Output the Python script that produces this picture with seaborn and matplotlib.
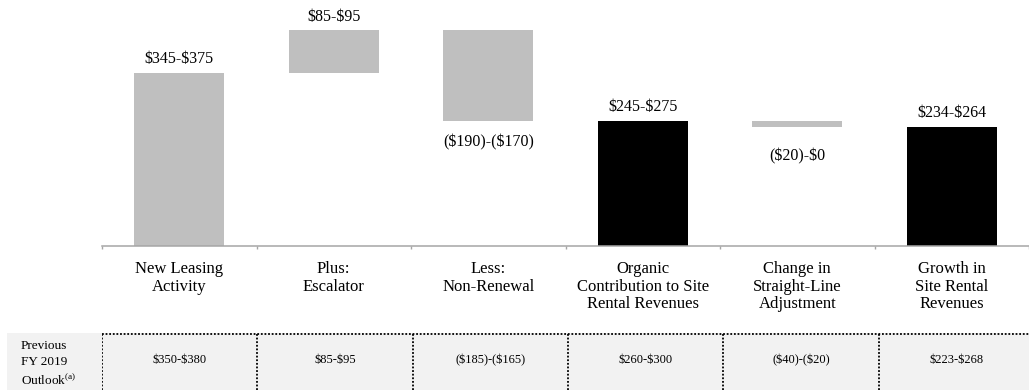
import numpy as np
import matplotlib
matplotlib.use("Agg")
import matplotlib.pyplot as plt
from matplotlib.patches import Rectangle
import seaborn as sns

# ---- data ($ millions) ----
categories = [
    "New Leasing\nActivity",
    "Plus:\nEscalator",
    "Less:\nNon-Renewal",
    "Organic\nContribution to Site\nRental Revenues",
    "Change in\nStraight-Line\nAdjustment",
    "Growth in\nSite Rental\nRevenues",
]
range_low = [345, 85, -190, 245, -20, 234]
range_high = [375, 95, -170, 275, 0, 264]
is_total = [False, False, False, True, False, True]
value_labels = ["$345-$375", "$85-$95", "($190)-($170)", "$245-$275", "($20)-$0", "$234-$264"]
previous_outlook = ["$350-$380", "$85-$95", "($185)-($165)", "$260-$300", "($40)-($20)", "$223-$268"]

# ---- waterfall geometry derived from the ranges ----
mid = [(lo + hi) / 2 for lo, hi in zip(range_low, range_high)]
starts, spans = [], []
level = 0.0
for i, m in enumerate(mid):
    if is_total[i]:
        starts.append(0.0)
        spans.append(m)
        level = m
        continue
    end = level + m
    # the last step before a subtotal closes onto that subtotal
    if i + 1 < len(mid) and is_total[i + 1]:
        end = mid[i + 1]
    starts.append(level)
    spans.append(end - level)
    level = end

GRAY = "#bfbfbf"
colors = ["#000000" if t else GRAY for t in is_total]

sns.set_theme(style="white")
plt.rcParams["font.family"] = ["Liberation Serif", "DejaVu Serif"]
plt.rcParams["mathtext.fontset"] = "custom"
plt.rcParams["mathtext.rm"] = "Liberation Serif"

W, H = 1029, 390
fig = plt.figure(figsize=(W / 100, H / 100), dpi=100)
fig.patch.set_facecolor("white")

# main waterfall axes
x0 = 102 / W
ax = fig.add_axes([x0, 144 / H, 1 - x0, 1 - 144 / H])
ax.set_facecolor("white")
n = len(categories)
xmax = -0.5 + (W - 102) / 155.3

sns.barplot(x=list(range(n)), y=spans, hue=list(range(n)), palette=colors,
            legend=False, width=0.585, saturation=1, ax=ax, linewidth=0)
for p, b in zip(ax.patches, starts):
    p.set_y(b)

ax.set_xlim(-0.5, xmax)
ax.set_ylim(0, 513)
ax.set_yticks([])
ax.set_ylabel("")
ax.set_xlabel("")
for s in ["top", "right", "left"]:
    ax.spines[s].set_visible(False)
ax.spines["bottom"].set_color("#a6a6a6")
ax.spines["bottom"].set_linewidth(1.1)

ax.set_xticks(range(n))
ax.set_xticklabels(categories, fontsize=12, color="black", linespacing=1.12)
ax.tick_params(axis="x", which="major", length=0, pad=11)
ax.set_xticks(np.arange(-0.5, n - 0.4, 1.0), minor=True)
ax.tick_params(axis="x", which="minor", length=2.5, width=1, color="#a6a6a6",
               direction="out", bottom=True)

# value labels
offsets = [6, 5, -13, 6, -22, 6]
for i, (lab, b, s, off) in enumerate(zip(value_labels, starts, spans, offsets)):
    if off > 0:
        y = max(b, b + s)
        va = "bottom"
    else:
        y = min(b, b + s)
        va = "top"
    ax.annotate(lab, (i, y), xytext=(0, off), textcoords="offset pixels",
                ha="center", va=va, fontsize=11.5, color="black", parse_math=False)

# previous outlook row
fig.patches.append(Rectangle((7 / W, 0), 1 - 7 / W, 57 / H, transform=fig.transFigure,
                             facecolor="#f2f2f2", edgecolor="none", zorder=-1))
tax = fig.add_axes([x0, 0, 1 - x0, 57 / H])
tax.set_xlim(-0.5, xmax)
tax.set_ylim(0, 1)
tax.axis("off")
tax.axhline(0.985, color="black", lw=1.3, ls=(0, (1, 1)))
for bx in np.arange(-0.5, n - 0.5, 1.0):
    tax.axvline(bx, color="black", lw=1.3, ls=(0, (1, 1)))
for i, txt in enumerate(previous_outlook):
    tax.text(i, 0.52, txt, ha="center", va="center", fontsize=9, color="black",
             parse_math=False)
fig.text(21 / W, 0.46 * 57 / H, "Previous\nFY 2019\nOutlook$^{\\mathrm{(a)}}$",
         ha="left", va="center", fontsize=9.5, linespacing=1.4, color="black")

fig.savefig("out.png", dpi=100)
